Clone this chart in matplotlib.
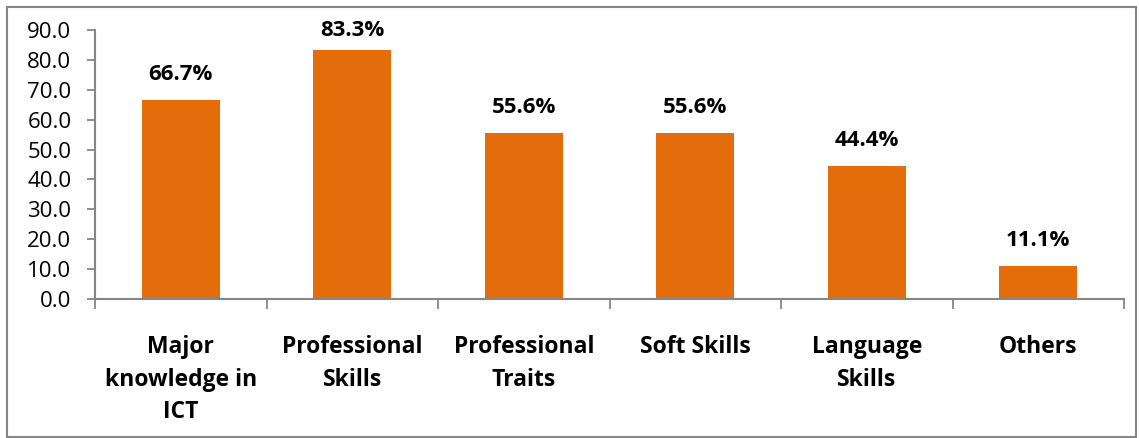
import numpy as np
import matplotlib.pyplot as plt
from matplotlib.patches import Rectangle

# data
categories = ['Major\nknowledge in\nICT', 'Professional\nSkills', 'Professional\nTraits',
              'Soft Skills', 'Language\nSkills', 'Others']
values = [66.7, 83.3, 55.6, 55.6, 44.4, 11.1]
y_ticks = [0, 10, 20, 30, 40, 50, 60, 70, 80, 90]

plt.rcParams['font.family'] = ['Open Sans', 'DejaVu Sans']

fig = plt.figure(figsize=(11.39, 4.38), dpi=100)
ax = fig.add_axes([95/1139, 1 - 299/438, (1124 - 95)/1139, (299 - 30)/438])

x = np.arange(len(categories))
ax.bar(x, values, width=0.455, color='#E46C0A', zorder=2)

# labels above bars (kept inside the plot area near the top, like Excel does)
for xi, v in zip(x, values):
    ax.text(xi, min(v + 5, 86.4), f'{v:.1f}%', ha='center', va='bottom',
            fontsize=16, fontweight='bold')

ax.set_xlim(-0.5, len(categories) - 0.5)
ax.set_ylim(0, 90)
ax.set_yticks(y_ticks)
ax.set_yticklabels([f'{t:.1f}' for t in y_ticks], fontsize=16)

# category labels, ticks on the boundaries
ax.set_xticks(np.arange(len(categories) + 1) - 0.5)
ax.set_xticklabels([])
ax.set_xticks(x, minor=True)
ax.set_xticklabels(categories, minor=True, fontsize=16.5, fontweight='bold', linespacing=1.47)
ax.tick_params(axis='x', which='minor', length=0, pad=26)
ax.tick_params(axis='x', which='major', length=7, color='#868686', width=1.3)
ax.tick_params(axis='y', length=6, color='#868686', width=1.3, pad=11)
for lbl in ax.get_xticklabels(minor=True):
    lbl.set_verticalalignment('top')

for side in ['top', 'right']:
    ax.spines[side].set_visible(False)
for side in ['left', 'bottom']:
    ax.spines[side].set_color('#868686')
    ax.spines[side].set_linewidth(1.5)

# outer chart frame
fig.patches.append(Rectangle((7/1139, 0.002), 1 - 10/1139, 1 - 7/438 - 0.002,
                             transform=fig.transFigure, fill=False,
                             edgecolor='#868686', linewidth=1.5))

plt.savefig('out.png', dpi=100)
